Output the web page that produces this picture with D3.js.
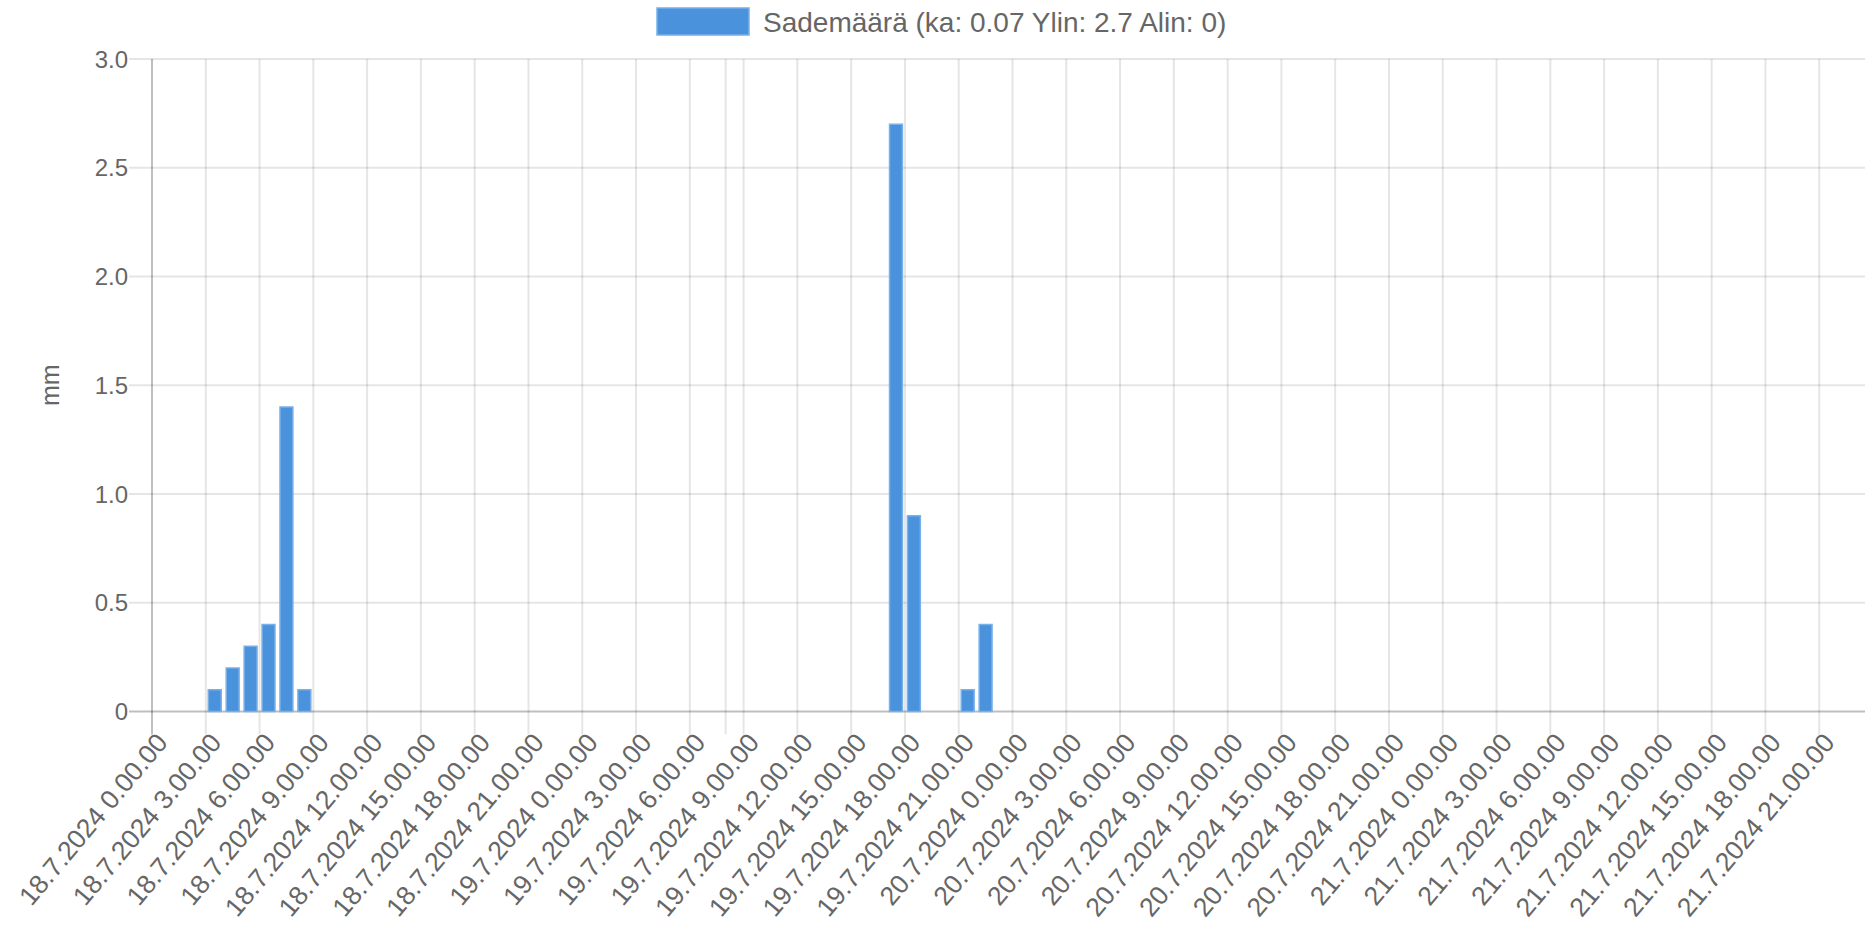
<!DOCTYPE html>
<html>
<head>
<meta charset="utf-8">
<script src="https://cdn.jsdelivr.net/npm/d3@7"></script>
<style>
    body { margin: 0; background: #fff; }
    svg text { font-family: "Liberation Sans", Arial, Helvetica, sans-serif; fill: #666; }
</style>
</head>
<body>
<svg id="chart" width="1865" height="927"></svg>
<script>
// days and hours of the x axis (one bar per hour)
const days = ["18.7.2024", "19.7.2024", "20.7.2024", "21.7.2024"];
const hours = [0, 1, 2, 3, 4, 5, 6, 7, 8, 9, 10, 11, 12, 13, 14, 15, 16, 17, 18, 19, 20, 21, 22, 23];
// hours that get a label on the axis
const tickHours = [0, 3, 6, 9, 12, 15, 18, 21];
// one extra grid line without label seen in the original
const extraGrid = ["19.7.2024 8.00.00"];

// rainfall, mm per hour, one row per day
const rain18 = [0, 0, 0, 0.1, 0.2, 0.3, 0.4, 1.4, 0.1, 0, 0, 0, 0, 0, 0, 0, 0, 0, 0, 0, 0, 0, 0, 0];
const rain19 = [0, 0, 0, 0, 0, 0, 0, 0, 0, 0, 0, 0, 0, 0, 0, 0, 0, 2.7, 0.9, 0, 0, 0.1, 0.4, 0];
const rain20 = [0, 0, 0, 0, 0, 0, 0, 0, 0, 0, 0, 0, 0, 0, 0, 0, 0, 0, 0, 0, 0, 0, 0, 0];
const rain21 = [0, 0, 0, 0, 0, 0, 0, 0, 0, 0, 0, 0, 0, 0, 0, 0, 0, 0, 0, 0, 0, 0, 0, 0];

const yTicks = [0, 0.5, 1, 1.5, 2, 2.5, 3];
const legendText = "Sademäärä (ka: 0.07 Ylin: 2.7 Alin: 0)";
const yTitle = "mm";

function buildData() {
    const rows = [rain18, rain19, rain20, rain21];
    let arr = [];
    days.forEach((day, i) => {
        hours.forEach((h, j) => {
            arr.push({ label: `${day} ${h}.00.00`, hour: h, value: rows[i][j] });
        });
    });
    return arr;
}

function drawGraph(data) {
    let svg = d3.select("#chart");
    svg.selectAll('*').remove();

    const area = { left: 152, right: 1873, top: 59, bottom: 711.5, tick: 23 };
    const gridColor = "rgba(0,0,0,0.1)";
    const zeroColor = "rgba(0,0,0,0.25)";

    let scX = d3.scaleBand()
        .domain(data.map(d => d.label))
        .range([area.left, area.right]);
    let scY = d3.scaleLinear()
        .domain([0, 3])
        .range([area.bottom, area.top]);

    // horizontal grid
    svg.append("g")
        .selectAll("line")
        .data(yTicks)
        .enter()
        .append("line")
        .attr("x1", area.left - area.tick)
        .attr("x2", area.right)
        .attr("y1", d => scY(d))
        .attr("y2", d => scY(d))
        .style("stroke", d => d == 0 ? zeroColor : gridColor)
        .style("stroke-width", 2);

    // vertical grid only for labelled hours (+ the extra one)
    const shown = data.filter(d => tickHours.includes(d.hour));
    const gridRows = data.filter(d => tickHours.includes(d.hour) || extraGrid.includes(d.label));
    svg.append("g")
        .selectAll("line")
        .data(gridRows)
        .enter()
        .append("line")
        .attr("x1", d => scX(d.label))
        .attr("x2", d => scX(d.label))
        .attr("y1", area.top)
        .attr("y2", area.bottom + area.tick)
        .style("stroke", (d, i) => i == 0 ? zeroColor : gridColor)
        .style("stroke-width", 2);

    // y labels
    svg.append("g")
        .selectAll("text")
        .data(yTicks)
        .enter()
        .append("text")
        .attr("x", area.left - area.tick - 1)
        .attr("y", d => scY(d))
        .attr("text-anchor", "end")
        .attr("dominant-baseline", "central")
        .style("font-size", "24px")
        .text(d => d == 0 ? "0" : d.toFixed(1));

    // x labels, rotated
    svg.append("g")
        .selectAll("text")
        .data(shown)
        .enter()
        .append("text")
        .attr("text-anchor", "end")
        .attr("dominant-baseline", "central")
        .attr("transform", d => `translate(${scX(d.label) + scX.bandwidth() / 2 + 1},${area.bottom + area.tick + 3}) rotate(-50)`)
        .style("font-size", "26.5px")
        .text(d => d.label);

    // bars
    const barW = scX.bandwidth() * 0.72;
    svg.append("g")
        .selectAll("rect")
        .data(data.filter(d => d.value > 0))
        .enter()
        .append("rect")
        .attr("x", d => scX(d.label) + (scX.bandwidth() - barW) / 2)
        .attr("y", d => scY(d.value))
        .attr("width", barW)
        .attr("height", d => scY(0) - scY(d.value))
        .style("fill", "#4a93dc")
        .style("stroke", "#78b0ea")
        .style("stroke-width", 1.5);

    // y title
    svg.append("text")
        .attr("transform", `translate(50,${(area.top + area.bottom) / 2}) rotate(-90)`)
        .attr("text-anchor", "middle")
        .attr("dominant-baseline", "central")
        .style("font-size", "25px")
        .text(yTitle);

    // legend
    let lg = svg.append("g");
    lg.append("rect")
        .attr("x", 657).attr("y", 8)
        .attr("width", 92).attr("height", 27)
        .style("fill", "#4a93dc")
        .style("stroke", "#78b0ea")
        .style("stroke-width", 1.5);
    lg.append("text")
        .attr("x", 763).attr("y", 22)
        .attr("dominant-baseline", "central")
        .style("font-size", "28px")
        .text(legendText);
}

drawGraph(buildData());
</script>
</body>
</html>
